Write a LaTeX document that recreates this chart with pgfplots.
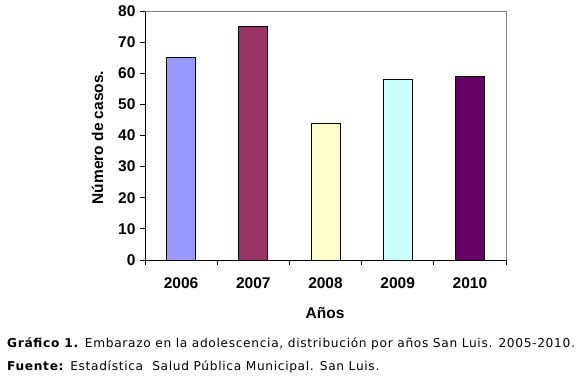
\documentclass[border=0pt]{standalone}
\usepackage{fontspec}
\setmainfont{Liberation Sans}
\newfontfamily\verdana[LetterSpace=5.5]{DejaVu Sans}
\usepackage{pgfplots}
\pgfplotsset{compat=1.18}
\definecolor{c1}{HTML}{9999FF}
\definecolor{c2}{HTML}{993366}
\definecolor{c3}{HTML}{FFFFCC}
\definecolor{c4}{HTML}{CCFFFF}
\definecolor{c5}{HTML}{660066}
\definecolor{framegray}{HTML}{808080}
\begin{document}
\begin{tikzpicture}[x=1bp,y=1bp]
\path[use as bounding box] (0bp,0bp) rectangle (579bp,378bp);
\begin{axis}[
  at={(145bp,118bp)}, anchor=south west,
  scale only axis, width=361bp, height=249bp,
  xmin=-0.5, xmax=4.5, ymin=0, ymax=80,
  ytick={0,10,...,80},
  xtick={0,1,2,3,4},
  xticklabels={2006,2007,2008,2009,2010},
  minor xtick={-0.5,0.5,1.5,2.5,3.5,4.5},
  axis x line*=bottom, axis y line*=left,
  axis line style={-, black, line width=0.8bp},
  tick align=outside,
  major tick length=5bp, minor tick length=5bp,
  x tick style={draw=none},
  minor x tick style={draw=black, line width=0.8bp},
  y tick style={black, line width=0.8bp},
  /pgf/number format/assume math mode=true,
  every tick label/.append style={font=\fontsize{15.5bp}{18bp}\selectfont\bfseries},
  xticklabel style={anchor=base, yshift=-24bp},
  yticklabel style={anchor=east, xshift=-1bp},
  clip=false,
]
\draw[framegray, line width=0.8bp] (rel axis cs:0,1) -- (rel axis cs:1,1) -- (rel axis cs:1,0);
\addplot[ybar, bar width=29bp, fill=c1, draw=black, line width=0.8bp] coordinates {(0,65)};
\addplot[ybar, bar width=29bp, fill=c2, draw=black, line width=0.8bp] coordinates {(1,75)};
\addplot[ybar, bar width=29bp, fill=c3, draw=black, line width=0.8bp] coordinates {(2,44)};
\addplot[ybar, bar width=29bp, fill=c4, draw=black, line width=0.8bp] coordinates {(3,58)};
\addplot[ybar, bar width=29bp, fill=c5, draw=black, line width=0.8bp] coordinates {(4,59)};
\end{axis}
\node[anchor=base, font=\fontsize{15.5bp}{18bp}\selectfont\bfseries] at (325bp,59bp) {Años};
\node[anchor=base, rotate=90, font=\fontsize{15.5bp}{18bp}\selectfont\bfseries] at (103bp,240.5bp) {Número de casos.};
\node[anchor=base west, inner sep=0pt, font=\verdana\fontsize{12.2bp}{14bp}\selectfont] at (7bp,31bp) {\textbf{Gráfico 1.} Embarazo en la adolescencia, distribución por años San Luis. 2005-2010.};
\node[anchor=base west, inner sep=0pt, font=\verdana\fontsize{12.2bp}{14bp}\selectfont] at (7bp,8bp) {\textbf{Fuente:} Estadística\ \ Salud Pública Municipal. San Luis.};
\end{tikzpicture}
\end{document}
